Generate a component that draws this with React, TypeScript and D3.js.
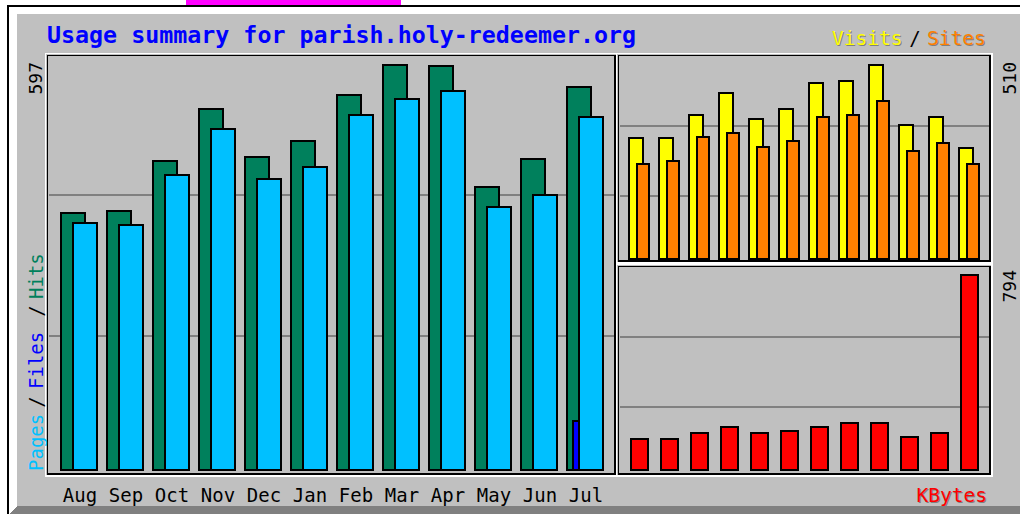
import React from 'react';
import * as d3 from 'd3';

// monthly usage
const months = ['Aug', 'Sep', 'Oct', 'Nov', 'Dec', 'Jan', 'Feb', 'Mar', 'Apr', 'May', 'Jun', 'Jul'];
const hits = [380, 383, 456, 532, 462, 486, 553, 597, 596, 418, 459, 565];
const files = [0, 0, 0, 0, 0, 0, 0, 0, 0, 0, 0, 75];
const pages = [365, 362, 436, 503, 430, 447, 524, 547, 559, 389, 406, 521];
const visits = [321, 321, 379, 436, 369, 395, 462, 468, 510, 353, 374, 295];
const sites = [253, 259, 322, 332, 296, 311, 374, 379, 416, 285, 306, 253];
const kbytes = [132, 132, 156, 180, 156, 164, 180, 196, 196, 140, 156, 794];

const title = 'Usage summary for parish.holy-redeemer.org';

const mono = '"DejaVu Sans Mono", monospace';
const GRAY = '#c0c0c0';
const GRID = '#808080';

function Panel({ x1, y1, x2, y2, grid }: { x1: number; y1: number; x2: number; y2: number; grid: number[] }) {
  return (
    <g>
      <rect x={x1 - 2} y={y1 - 2} width={x2 - x1 + 4} height={y2 - y1 + 4} fill={GRAY} stroke="#fff" strokeWidth={1.5} />
      <rect x={x1} y={y1} width={x2 - x1} height={y2 - y1} fill={GRAY} stroke="#000" strokeWidth={1.5} />
      {grid.map((gy, i) => (
        <line key={i} x1={x1 + 1} x2={x2 - 1} y1={gy} y2={gy} stroke={GRID} strokeWidth={1.5} />
      ))}
    </g>
  );
}

function Bar({ x0, x1, top, base, fill }: { x0: number; x1: number; top: number; base: number; fill: string }) {
  if (base - top < 1) return null;
  return (
    <rect x={x0 + 1} y={top + 1} width={x1 - x0 - 2} height={Math.max(0, base - top - 2)}
      fill={fill} stroke="#000" strokeWidth={2} />
  );
}

export default function App() {
  const xMain = d3.scaleBand<string>().domain(months).range([60, 60 + 46 * 12]);
  const xRight = d3.scaleBand<string>().domain(months).range([628, 628 + 30 * 12]);

  const maxMain = d3.max(hits) as number;
  const maxVis = d3.max(visits) as number;
  const maxKb = d3.max(kbytes) as number;

  const yMain = d3.scaleLinear().domain([0, maxMain]).range([471, 64]);
  const yVis = d3.scaleLinear().domain([0, maxVis]).range([260, 64]);
  const yKb = d3.scaleLinear().domain([0, maxKb]).range([471, 274]);

  return (
    <svg width={1020} height={514} style={{ position: 'absolute', left: 0, top: 0 }} shapeRendering="crispEdges">
      <rect x={0} y={0} width={1020} height={514} fill="#fff" />
      <rect x={186} y={0} width={215} height={5} fill="#ff00ff" />
      {/* outer frame */}
      <rect x={9} y={6} width={1011} height={508} fill={GRAY} />
      <polygon points="9,6 1020,6 1020,14 17,14 17,506 9,514" fill="#fff" />
      <polygon points="9,514 17,506 1020,506 1020,514" fill="#808080" />
      <rect x={7} y={5} width={1013} height={2} fill="#000" />
      <rect x={7} y={5} width={2} height={509} fill="#000" />

      <Panel x1={47.5} y1={55.5} x2={615} y2={474} grid={[195, 336]} />
      <Panel x1={618.5} y1={55.5} x2={990} y2={261} grid={[126, 196]} />
      <Panel x1={618.5} y1={266.5} x2={990} y2={474} grid={[337, 407]} />

      {months.map((m, i) => {
        const x0 = xMain(m) as number;
        return (
          <g key={m}>
            <Bar x0={x0} x1={x0 + 26} top={yMain(hits[i])} base={yMain(0)} fill="#00805c" />
            <Bar x0={x0 + 6} x1={x0 + 32} top={yMain(files[i])} base={yMain(0)} fill="#0000ff" />
            <Bar x0={x0 + 12} x1={x0 + 38} top={yMain(pages[i])} base={yMain(0)} fill="#00c0ff" />
            <text x={x0 + 20} y={502} fontFamily={mono} fontSize={19} textAnchor="middle" fill="#000">{m}</text>
          </g>
        );
      })}

      {months.map((m, i) => {
        const x0 = xRight(m) as number;
        return (
          <g key={m}>
            <Bar x0={x0} x1={x0 + 16} top={yVis(visits[i])} base={yVis(0)} fill="#ffff00" />
            <Bar x0={x0 + 8} x1={x0 + 22} top={yVis(sites[i])} base={yVis(0)} fill="#ff8000" />
            <Bar x0={x0 + 2} x1={x0 + 21} top={yKb(kbytes[i])} base={yKb(0)} fill="#ff0000" />
          </g>
        );
      })}

      <g shapeRendering="auto">
        <text x={47} y={43} fontFamily={mono} fontSize={23.3} fontWeight="bold" fill="#0000ff">{title}</text>

        <text x={833} y={46} fontFamily={mono} fontSize={19.5} fill="#808080">Visits</text>
        <text x={832} y={45} fontFamily={mono} fontSize={19.5} fill="#ffff00">Visits</text>
        <text x={915} y={45} fontFamily={mono} fontSize={19} textAnchor="middle" fill="#000">/</text>
        <text x={928} y={46} fontFamily={mono} fontSize={19.5} fill="#808080">Sites</text>
        <text x={927} y={45} fontFamily={mono} fontSize={19.5} fill="#ff8000">Sites</text>

        <text x={988} y={503} fontFamily={mono} fontSize={19.5} textAnchor="end" fill="#808080">KBytes</text>
        <text x={987} y={502} fontFamily={mono} fontSize={19.5} textAnchor="end" fill="#ff0000">KBytes</text>

        <text transform="translate(42,62) rotate(-90)" fontFamily={mono} fontSize={18} textAnchor="end" fill="#000">{maxMain}</text>
        <text transform="translate(1016,62) rotate(-90)" fontFamily={mono} fontSize={18} textAnchor="end" fill="#000">{maxVis}</text>
        <text transform="translate(1016,270) rotate(-90)" fontFamily={mono} fontSize={18} textAnchor="end" fill="#000">{maxKb}</text>

        <g fontFamily={mono} fontSize={19}>
          <text transform="translate(43,471) rotate(-90)" fill="#00c0ff">Pages</text>
          <text transform="translate(43,402) rotate(-90)" textAnchor="middle" fill="#000">/</text>
          <text transform="translate(43,389) rotate(-90)" fill="#0000ff">Files</text>
          <text transform="translate(43,311) rotate(-90)" textAnchor="middle" fill="#000">/</text>
          <text transform="translate(43,299) rotate(-90)" fill="#00805c">Hits</text>
        </g>
      </g>
    </svg>
  );
}
